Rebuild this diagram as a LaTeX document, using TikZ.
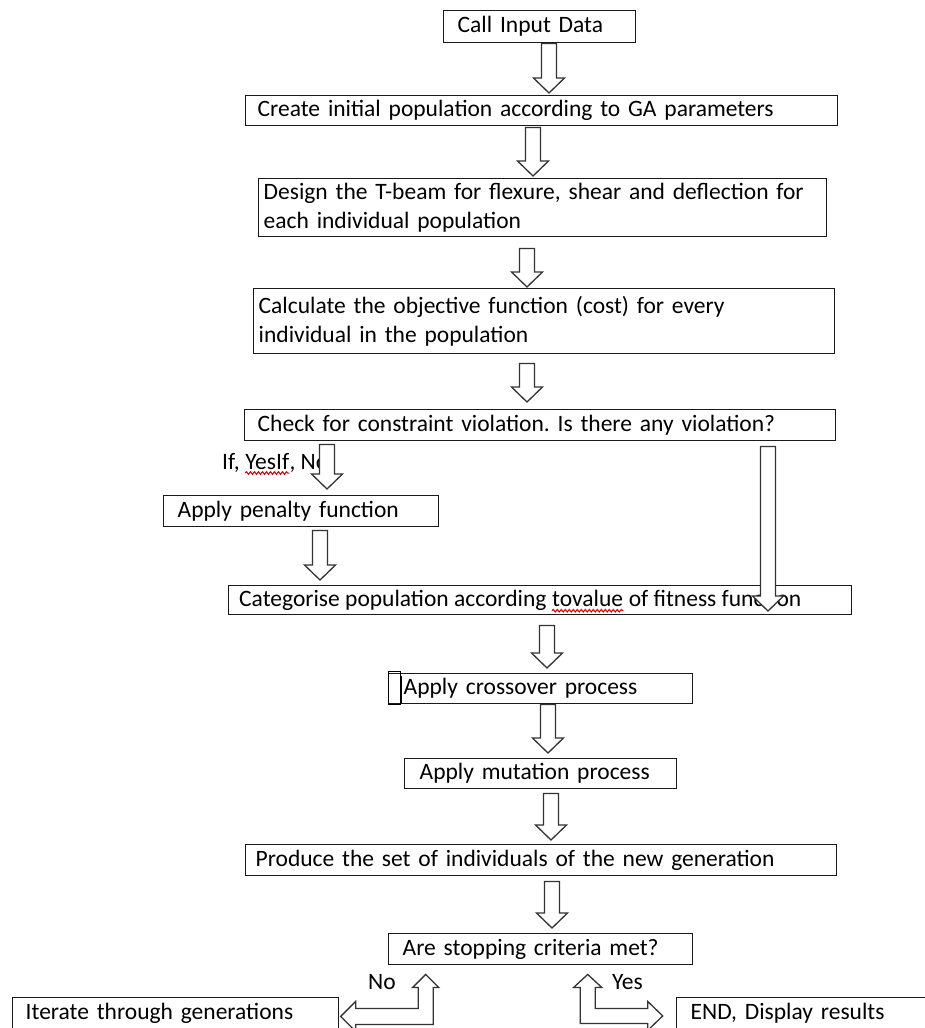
\documentclass[tikz,border=0pt]{standalone}
\usepackage{fontspec}
\setmainfont{Carlito}
\usetikzlibrary{calc,decorations.pathmorphing}
% hollow block arrow pointing down: #1 x, #2 start anchor, #3 start gap, #4 end anchor, #5 end gap
\newcommand\varr[5]{\draw[harrow] let \p1=(#2), \p2=(#4) in
 ({(#1-7.5)*1pt},{\y1-(#3)*1pt}) -- ({(#1-7.5)*1pt},{\y2+(#5+15)*1pt}) -- ({(#1-15.5)*1pt},{\y2+(#5+15)*1pt}) -- ({#1*1pt},{\y2+(#5)*1pt}) -- ({(#1+15.5)*1pt},{\y2+(#5+15)*1pt}) -- ({(#1+7.5)*1pt},{\y2+(#5+15)*1pt}) -- ({(#1+7.5)*1pt},{\y1-(#3)*1pt}) -- cycle;}
\begin{document}
\frenchspacing
\begin{tikzpicture}[x=1pt,y=-1pt,
 box/.style={draw=black!90, line width=1.4pt, anchor=north west, inner xsep=#1, inner ysep=0pt, align=left, font=\fontsize{23.5}{29}\selectfont},
 box/.default=10pt,
 harrow/.style={draw=black!80, line width=1.3pt, fill=white, line join=miter},
 wavy/.style={draw=red!85!black, line width=1pt, decorate, decoration={snake, amplitude=1.3pt, segment length=4pt}},
 txt/.style={inner sep=0pt, anchor=base west, font=\fontsize{23.5}{29}\selectfont}]
\path[use as bounding box, clip] (0,0) rectangle (925,1028);
\fill[white] (0,0) rectangle (925,1028);
\node[box=14pt, text width=164pt, minimum height=32pt] (n1) at (443,10) {Call Input Data};
\node[box=12pt, text width=568pt, minimum height=30pt] (n2) at (245,95) {Create initial population according to GA parameters};
\node[box=5pt, text width=558pt, minimum height=58pt] (n3) at (258,178) {Design the T-beam for flexure, shear and deflection for\\each individual population};
\node[box=5pt, text width=571pt, minimum height=65pt] (n4) at (253,288) {Calculate the objective function (cost) for every\\individual in the population};
\node[box=13pt, text width=565pt, minimum height=31pt] (n5) at (244,409) {Check for constraint violation. Is there any violation?};
\node[box=14pt, text width=247pt, minimum height=31pt] (n6) at (163,495) {Apply penalty function};
\node[box=10pt, text width=603pt, minimum height=29pt] (n7) at (228,585) {};
\node[txt] (t7a) at ($(n7.west)+(11,6.5)$) {Categorise population according};
\node[txt] (t7b) at ($(t7a.base east)+(5.3,0)$) {tovalue};
\node[txt] (t7c) at ($(t7b.base east)+(5.3,0)$) {of fitness function};
\node[box=15pt, text width=274pt, minimum height=30pt] (n8) at (388,673) {Apply crossover process};
\node[box=15pt, text width=242pt, minimum height=30pt] (n9) at (404,758) {Apply mutation process};
\node[box=10pt, text width=571pt, minimum height=31pt] (n10) at (245,844) {Produce the set of individuals of the new generation};
\node[box=14pt, text width=276pt, minimum height=31pt] (n11) at (388,933) {Are stopping criteria met?};
\node[box=13pt, text width=300pt, minimum height=31pt] (n12) at (12,997) {Iterate through generations};
\node[box=14pt, text width=272pt, minimum height=31pt] (n13) at (676,997) {END, Display results};
% cursor artefact in crossover box
\draw[line width=1pt] ($(n8.north west)+(0,-2)$) rectangle ($(n8.south west)+(12,0)$);
\draw[line width=2.2pt] ($(n8.north west)+(13,3)$) -- ($(n8.south west)+(13,-1)$);
% labels
\node[txt] (ifa) at (222,469) {If,};
\node[txt] (ifb) at ($(ifa.base east)+(5.3,0)$) {YesIf};
\node[txt] (ifc) at (ifb.base east) {, No};
\node[txt, anchor=west] (nol) at (368,982) {No};
\node[txt, anchor=west] (yesl) at (612,982) {Yes};
% spell-check underlines
\draw[wavy] ($(t7b.base west)+(0,4)$) -- ($(t7b.base east)+(0,4)$);
\draw[wavy] ($(ifb.base west)+(0,4)$) -- ($(ifb.base east)+(0,4)$);
% arrows
\varr{549}{n1.south}{0}{n2.north}{2}
\varr{533}{n2.south}{1}{n3.north}{2}
\varr{527}{n3.south}{11}{n4.north}{1}
\varr{527}{n4.south}{9}{n5.north}{7}
\varr{327}{n5.south}{3}{n6.north}{6}
\varr{768}{n5.south}{5}{n7.north}{-26}
\varr{320}{n6.south}{3}{n7.north}{5}
\varr{547}{n7.south}{10}{n8.north}{5}
\varr{548}{n8.south}{0}{n9.north}{5}
\varr{551}{n9.south}{4}{n10.north}{4}
\varr{552}{n10.south}{5}{n11.north}{5}
% elbow arrows at the bottom
\coordinate (notip) at ($(n11.south)+(-115,9)$);
\coordinate (yestip) at ($(n11.south)+(47,9)$);
\draw[harrow] (notip) -- ++(13,13) -- ++(-5.5,0) -- ++(0,37) -- ++(-77.5,0) -- ++(0,7) -- ++(-15,-15) -- ++(15,-15) -- ++(0,7) -- ++(62.5,0) -- ++(0,-21) -- ++(-5.5,0) -- cycle;
\draw[harrow] (yestip) -- ++(-14,13) -- ++(6.5,0) -- ++(0,36) -- ++(67.5,0) -- ++(0,7) -- ++(15,-14.5) -- ++(-15,-14.5) -- ++(0,7) -- ++(-52.5,0) -- ++(0,-21) -- ++(6.5,0) -- cycle;
\end{tikzpicture}
\end{document}
